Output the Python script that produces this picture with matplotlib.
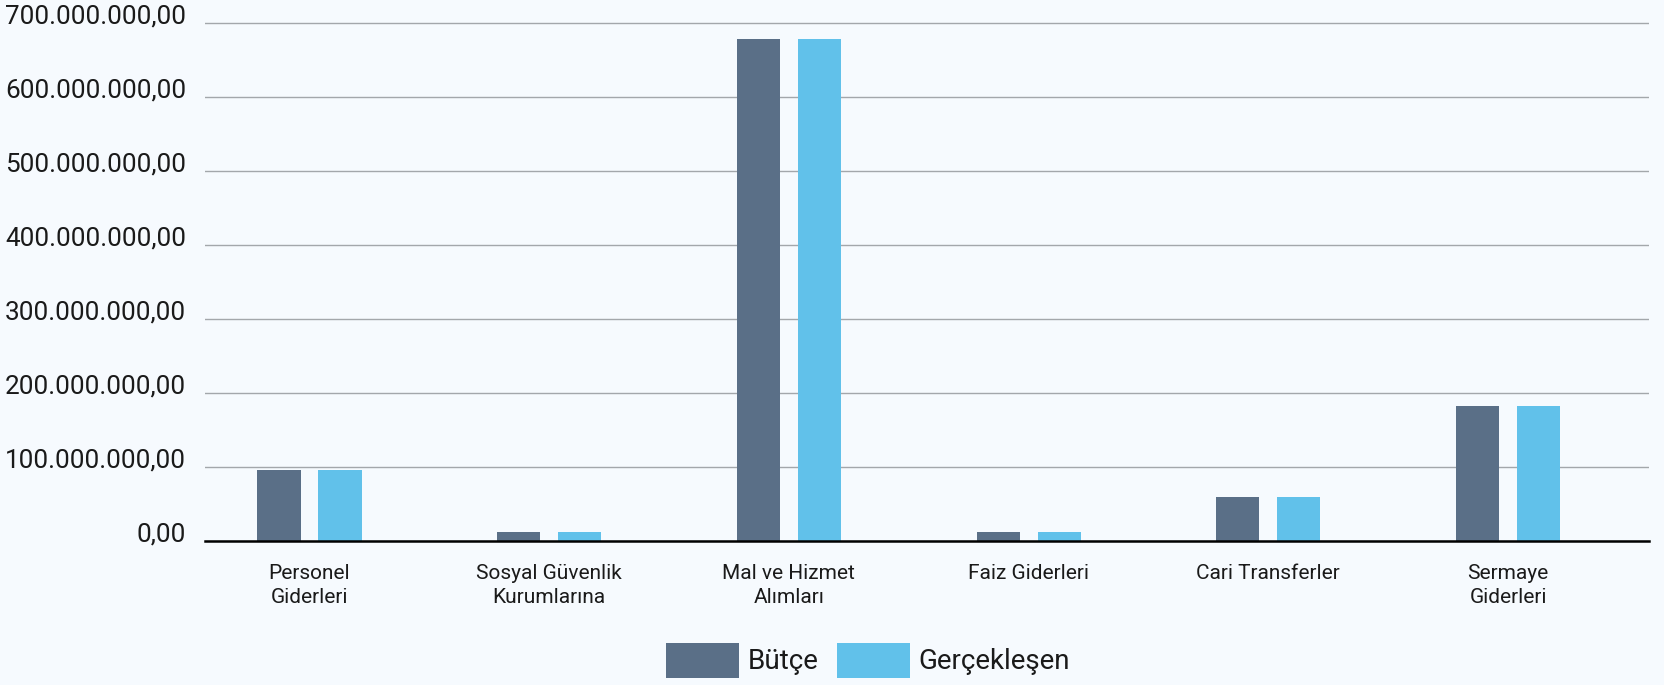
import matplotlib
matplotlib.use("Agg")
import matplotlib.pyplot as plt
import numpy as np
from matplotlib.patches import Patch

categories = ["Personel\nGiderleri", "Sosyal Güvenlik\nKurumlarına", "Mal ve Hizmet\nAlımları",
              "Faiz Giderleri", "Cari Transferler", "Sermaye\nGiderleri"]
butce = [96e6, 13e6, 679e6, 13e6, 60e6, 183e6]
gerceklesen = [96e6, 13e6, 679e6, 13e6, 60e6, 183e6]
series_names = ["Bütçe", "Gerçekleşen"]
ytick_values = [0, 100e6, 200e6, 300e6, 400e6, 500e6, 600e6, 700e6]
ytick_labels = ["0,00", "100.000.000,00", "200.000.000,00", "300.000.000,00",
                "400.000.000,00", "500.000.000,00", "600.000.000,00", "700.000.000,00"]

BG = "#F6FAFE"
DARK = "#5A6F87"
LIGHT = "#61C1EA"
TXT = "#1A1A1A"

plt.rcParams['font.family'] = ['Roboto', 'DejaVu Sans']

fig = plt.figure(figsize=(16.64, 6.85), dpi=100, facecolor=BG)
ax = fig.add_axes([205/1664, 0.2095, (1649-205)/1664, 0.7616], facecolor=BG)

x = np.arange(len(categories))
w = 0.18
off = 0.127
ax.bar(x - off, butce, width=w, color=DARK, zorder=2)
ax.bar(x + off, gerceklesen, width=w, color=LIGHT, zorder=2)

ax.set_xlim(-0.436, 5.588)
ax.set_ylim(0, 705e6)

ax.set_yticks(ytick_values)
ax.set_yticklabels(ytick_labels, fontsize=18.8, color=TXT)
for lab in ax.get_yticklabels():
    lab.set_verticalalignment('baseline')
ax.tick_params(axis='y', length=0, pad=13.5)

ax.set_xticks(x)
ax.set_xticklabels(categories, fontsize=15, color=TXT, linespacing=1.28)
ax.tick_params(axis='x', length=0, pad=16.5)

ax.yaxis.grid(True, color="#A3A7AB", linewidth=1.0, zorder=0)
ax.set_axisbelow(True)
for s in ['top', 'right', 'left']:
    ax.spines[s].set_visible(False)
ax.spines['bottom'].set_color('black')
ax.spines['bottom'].set_linewidth(1.8)
ax.spines['bottom'].set_zorder(3)

handles = [Patch(facecolor=DARK, edgecolor='none'), Patch(facecolor=LIGHT, edgecolor='none')]
leg = fig.legend(handles, series_names, loc='center', bbox_to_anchor=(868/1664, 0.036),
                 ncol=2, frameon=False, fontsize=20, handlelength=2.63, handleheight=1.55,
                 handletextpad=0.32, columnspacing=0.65, borderpad=0, borderaxespad=0)
for t in leg.get_texts():
    t.set_color(TXT)

fig.savefig("out.png", dpi=100, facecolor=BG)
